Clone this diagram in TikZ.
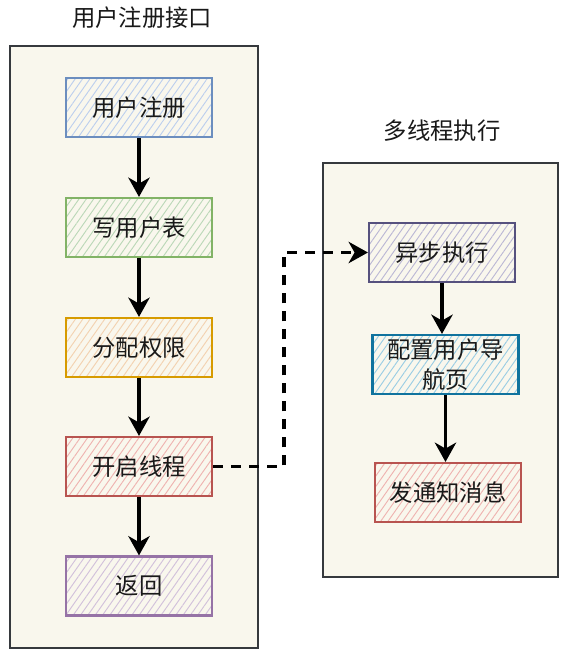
\documentclass[tikz,border=0pt]{standalone}
\usepackage{fontspec}
\setmainfont{Noto Sans CJK SC}
\usetikzlibrary{arrows.meta,patterns.meta,calc}
\definecolor{cont}{HTML}{36393D}
\definecolor{contfill}{HTML}{F9F7ED}
\definecolor{blueS}{HTML}{6C8EBF}\definecolor{blueF}{HTML}{BCCFEE}
\definecolor{greenS}{HTML}{82B366}\definecolor{greenF}{HTML}{BBD8B8}
\definecolor{orangeS}{HTML}{D79B00}\definecolor{orangeF}{HTML}{F3D2B0}
\definecolor{redS}{HTML}{B85450}\definecolor{redF}{HTML}{EFB3B0}
\definecolor{purpS}{HTML}{9673A6}\definecolor{purpF}{HTML}{D2C1DB}
\definecolor{dpurpS}{HTML}{56517E}\definecolor{dpurpF}{HTML}{BBB8D5}
\definecolor{tealS}{HTML}{10739E}\definecolor{tealF}{HTML}{9ACDE4}
\tikzset{
  pbox/.style 2 args={draw=#1, pattern={Lines[angle=55,distance=4.5pt,line width=0.7pt]}, pattern color=#2,
    line width=1.6pt, minimum width=109.5pt, minimum height=44.25pt, inner sep=0pt, align=center,
    font=\fontsize{17.5}{22.5}\selectfont, text=black!90},
  container/.style={draw=cont, fill=contfill, line width=1.3pt},
  title/.style={font=\fontsize{17.5}{22.5}\selectfont, text=black!90},
  flow/.style={line width=2.4pt, -{Stealth[length=14.5pt,width=16pt,inset=4.5pt]}},
  async/.style={flow, dash pattern=on 7.5pt off 6pt}
}
\begin{document}
\begin{tikzpicture}[x=0.75pt,y=-0.75pt]
\useasboundingbox (0,0) rectangle (568,657);
\fill[white] (0,0) rectangle (568,657);
% containers
\node[title] (t1) at (142,18) {用户注册接口};
\draw[container] (10,46) rectangle (258,648);
\node[title] (t2) at (442,131) {多线程执行};
\draw[container] (323,163) rectangle (558,577);
% left boxes
\node[pbox={blueS}{blueF}] (b1) at (139,107.5) {用户注册};
\node[pbox={greenS}{greenF}] (b2) at (139,227.5) {写用户表};
\node[pbox={orangeS}{orangeF}] (b3) at (139,347.5) {分配权限};
\node[pbox={redS}{redF}] (b4) at (139,466.5) {开启线程};
\node[pbox={purpS}{purpF}] (b5) at (139,586) {返回};
% right boxes
\node[pbox={dpurpS}{dpurpF}] (r1) at (442,252.5) {异步执行};
\node[pbox={tealS}{tealF}] (r2) at (445.5,364.5) {配置用户导\\航页};
\node[pbox={redS}{redF}] (r3) at (448,492.5) {发通知消息};
% arrows
\draw[flow] (b1.south) -- (b2.north);
\draw[flow] (b2.south) -- (b3.north);
\draw[flow] (b3.south) -- (b4.north);
\draw[flow] (b4.south) -- (b5.north);
\draw[flow] (r1.south) -- (r1.south |- r2.north);
\draw[flow] (r2.south) -- (r2.south |- r3.north);
\coordinate (turn) at (284,0);
\draw[async] (b4.east) -- (b4.east -| turn) |- (r1.west);
\end{tikzpicture}
\end{document}
